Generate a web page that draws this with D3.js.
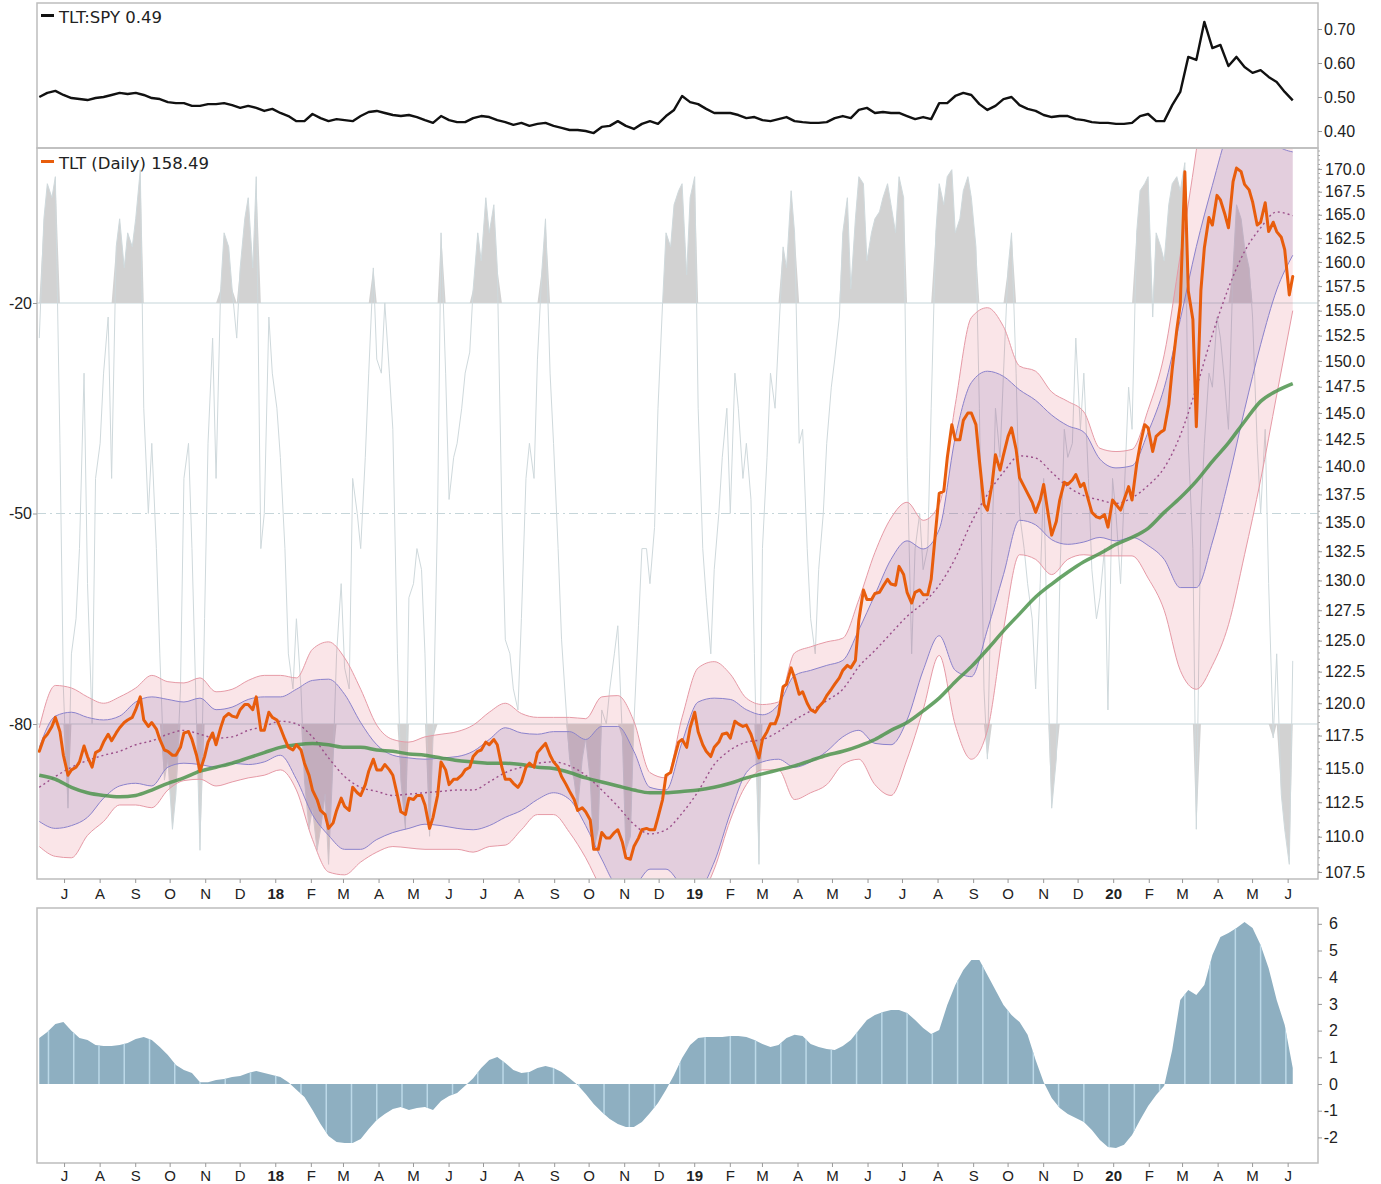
<!DOCTYPE html>
<html>
<head>
<meta charset="utf-8">
<script src="https://cdn.jsdelivr.net/npm/d3@7"></script>
<style>
  html, body { margin: 0; padding: 0; background: #fff; }
  svg { display: block; }
  .tick-label { font-family: "Liberation Sans", Arial, sans-serif; font-size: 16px; fill: #222; }
  .legend { font-family: "DejaVu Sans", Verdana, sans-serif; font-size: 16.5px; fill: #222; }
</style>
</head>
<body>
<svg id="chart" width="1381" height="1184"></svg>
<script>
// weekly closes (Fridays) from 2017-06-09
const ratioValues = [
  0.500,0.512,0.518,0.506,0.497,0.494,0.491,0.497,0.500,0.506,
  0.512,0.509,0.512,0.506,0.497,0.494,0.485,0.482,0.482,0.474,
  0.474,0.479,0.479,0.482,0.476,0.468,0.474,0.468,0.459,0.465,
  0.453,0.444,0.429,0.429,0.450,0.438,0.429,0.435,0.432,0.429,
  0.444,0.456,0.459,0.453,0.447,0.444,0.447,0.441,0.432,0.424,
  0.444,0.432,0.426,0.426,0.438,0.444,0.441,0.432,0.426,0.418,
  0.424,0.415,0.421,0.424,0.415,0.409,0.403,0.403,0.400,0.394,
  0.412,0.415,0.429,0.415,0.406,0.421,0.429,0.421,0.444,0.462,
  0.503,0.485,0.479,0.465,0.453,0.453,0.453,0.447,0.438,0.441,
  0.432,0.429,0.435,0.441,0.429,0.426,0.424,0.424,0.426,0.438,
  0.444,0.438,0.462,0.468,0.453,0.456,0.453,0.453,0.444,0.435,
  0.441,0.435,0.482,0.482,0.503,0.512,0.506,0.479,0.462,0.474,
  0.494,0.500,0.476,0.465,0.459,0.447,0.441,0.444,0.444,0.435,
  0.432,0.426,0.424,0.424,0.421,0.421,0.424,0.444,0.450,0.429,
  0.429,0.476,0.515,0.618,0.609,0.721,0.644,0.653,0.591,0.618,
  0.588,0.571,0.579,0.559,0.544,0.515,0.490
];

const histValues = [
  1.72,1.95,2.25,2.32,1.99,1.72,1.65,1.46,1.42,1.42,
  1.46,1.54,1.69,1.76,1.65,1.39,1.09,0.71,0.52,0.41,
  0.07,0.07,0.15,0.19,0.26,0.30,0.41,0.49,0.41,0.34,
  0.26,0.07,-0.22,-0.49,-0.97,-1.50,-1.95,-2.17,-2.21,-2.21,
  -2.06,-1.69,-1.35,-1.12,-0.94,-0.86,-0.97,-0.90,-0.86,-0.97,
  -0.64,-0.45,-0.34,-0.07,0.22,0.60,0.90,1.01,0.79,0.52,
  0.41,0.45,0.60,0.67,0.60,0.45,0.22,-0.04,-0.37,-0.75,
  -1.05,-1.31,-1.50,-1.61,-1.61,-1.42,-1.09,-0.71,-0.22,0.34,
  0.97,1.46,1.72,1.76,1.76,1.76,1.80,1.80,1.76,1.65,
  1.50,1.39,1.46,1.72,1.84,1.80,1.50,1.39,1.31,1.27,
  1.42,1.65,2.02,2.40,2.58,2.70,2.77,2.77,2.66,2.40,
  2.10,1.87,2.02,2.96,3.71,4.27,4.64,4.64,4.08,3.52,
  2.96,2.58,2.32,1.84,0.90,0.07,-0.52,-0.90,-1.12,-1.27,
  -1.42,-1.72,-2.10,-2.36,-2.40,-2.28,-1.91,-1.35,-0.82,-0.41,
  -0.07,1.27,3.15,3.52,3.33,3.71,4.83,5.51,5.66,5.84,
  6.07,5.84,5.21,4.34,3.15,2.21,0.60
];

// twice a week (Fri, Tue, Fri, ...) from 2017-06-09
const priceCloses = [
  116.3,117.3,117.6,118.2,118.9,117.8,116.0,114.5,114.9,115.1,
  115.5,116.7,115.9,115.1,116.2,116.4,117.0,117.6,117.1,117.7,
  118.1,118.5,118.7,118.9,119.5,120.5,118.7,118.2,118.5,118.0,
  117.2,116.4,116.3,116.0,116.0,116.6,117.7,117.8,117.2,116.0,
  114.8,115.9,117.0,117.7,116.8,118.1,118.9,119.2,119.0,118.9,
  119.5,119.9,119.9,119.5,120.5,117.9,117.9,119.3,118.9,118.7,
  118.1,117.2,116.6,116.4,116.8,116.4,115.4,114.5,113.4,112.7,
  111.9,111.6,110.6,111.0,111.9,112.8,112.2,111.9,113.6,113.2,
  113.0,113.8,114.8,115.7,114.9,114.9,115.3,114.9,114.5,113.0,
  111.8,111.6,112.8,112.7,113.0,113.0,112.3,110.6,111.4,113.0,
  115.5,114.9,113.8,114.2,114.2,114.5,114.9,115.1,115.9,116.3,
  116.4,117.0,116.8,117.2,116.8,115.1,114.2,114.2,113.9,113.6,
  114.0,115.1,115.4,115.1,116.2,116.6,116.9,116.0,115.5,115.1,
  114.4,113.8,113.3,112.7,111.9,112.1,111.8,111.2,109.1,109.1,
  110.3,109.9,109.9,110.3,110.5,109.6,108.5,108.4,109.3,109.9,
  110.5,110.6,110.5,110.5,111.4,112.7,114.5,114.7,115.7,117.0,
  117.2,116.6,118.1,119.3,117.8,116.8,116.3,115.9,116.6,117.0,
  117.6,117.7,117.3,118.6,118.4,118.2,118.3,117.6,116.8,115.8,
  117.2,117.8,118.4,118.4,119.1,121.3,121.5,122.8,122.0,120.7,
  120.9,120.0,119.5,119.3,119.7,120.1,120.6,121.1,121.5,122.0,
  122.6,123.0,122.8,123.4,126.7,129.2,128.4,128.4,128.9,129.0,
  129.5,130.1,129.7,129.6,131.2,130.5,129.0,128.1,129.0,129.2,
  128.8,128.8,130.1,134.4,137.6,137.8,140.8,143.9,142.5,142.5,
  144.3,145.0,145.0,143.9,140.6,136.6,136.1,138.4,141.1,139.7,
  141.1,142.8,143.6,141.6,139.0,138.2,137.6,136.8,135.9,137.0,
  138.4,135.7,133.9,135.1,137.0,138.6,138.4,138.8,139.3,138.2,
  138.5,137.0,135.9,135.5,135.4,135.7,134.6,137.0,136.6,136.1,
  137.0,138.2,137.0,140.2,142.0,143.9,143.6,141.4,142.8,143.2,
  143.4,145.8,149.2,153.1,155.6,169.7,157.0,154.1,143.7,157.1,
  161.5,164.7,163.9,167.1,166.6,165.0,163.6,168.6,170.1,169.7,
  168.3,167.7,166.4,163.9,164.2,166.3,163.2,164.2,163.2,162.6,
  161.3,156.6,158.49
];

const williamsR = [
  -25,-8,-3,-5,-2,-40,-75,-92,-70,-65,
  -55,-30,-60,-80,-45,-40,-30,-22,-45,-12,
  -8,-15,-10,-12,-8,-1,-35,-50,-40,-55,
  -70,-88,-85,-95,-90,-75,-45,-40,-55,-80,
  -98,-65,-40,-25,-45,-18,-10,-12,-18,-25,
  -15,-8,-5,-15,-2,-55,-50,-22,-30,-35,
  -42,-55,-70,-75,-65,-75,-88,-95,-92,-98,
  -95,-90,-100,-85,-70,-60,-72,-75,-45,-50,
  -55,-42,-30,-15,-28,-30,-20,-30,-38,-70,
  -88,-95,-62,-60,-55,-58,-70,-96,-82,-50,
  -10,-30,-48,-42,-40,-35,-30,-27,-18,-10,
  -14,-5,-10,-6,-15,-50,-68,-70,-75,-78,
  -65,-45,-40,-45,-28,-15,-8,-30,-40,-55,
  -68,-78,-85,-88,-92,-85,-82,-88,-98,-95,
  -78,-80,-75,-70,-66,-82,-98,-96,-80,-66,
  -55,-55,-60,-52,-35,-20,-10,-12,-6,-4,
  -3,-16,-5,-2,-35,-55,-62,-70,-58,-50,
  -42,-35,-50,-30,-35,-45,-40,-48,-70,-100,
  -55,-42,-30,-35,-25,-12,-15,-4,-10,-40,
  -38,-55,-65,-70,-58,-50,-40,-32,-28,-22,
  -10,-5,-18,-8,-2,-3,-14,-10,-8,-7,
  -5,-3,-6,-10,-2,-5,-42,-70,-55,-50,
  -58,-55,-35,-10,-3,-6,-2,-1,-10,-8,
  -4,-2,-5,-12,-35,-75,-85,-55,-35,-42,
  -30,-15,-10,-30,-50,-55,-60,-65,-75,-60,
  -45,-75,-92,-85,-60,-38,-42,-40,-25,-38,
  -30,-45,-58,-65,-62,-55,-78,-45,-50,-60,
  -48,-32,-38,-10,-4,-3,-2,-22,-10,-12,
  -14,-6,-3,-2,-4,0,-40,-55,-95,-50,
  -40,-30,-32,-22,-25,-32,-38,-15,-6,-8,
  -12,-15,-22,-40,-50,-38,-60,-82,-70,-90,
  -95,-100,-71
];

// every second Friday from 2017-06-09
const outerUpper = [
  118.1,121.4,121.2,120.5,120.0,120.5,121.2,122.2,121.7,121.6,
  122.0,120.9,121.1,121.8,122.2,122.2,122.0,124.3,124.9,123.6,
  121.1,118.3,117.2,117.0,117.4,117.6,117.8,118.3,119.3,120.0,
  119.2,118.9,118.9,118.9,118.8,120.5,120.6,118.6,114.7,114.3,
  118.9,122.8,123.3,122.3,120.4,119.9,120.1,124.0,124.5,124.9,
  125.2,128.4,132.4,135.4,136.8,135.2,136.6,145.8,154.3,155.3,
  153.4,149.5,149.0,147.0,146.1,145.1,141.7,141.4,141.6,145.3,
  150.6,160.7,172.1,186.1,193.5,194.8,192.3,183.7,176.6
];
const outerLower = [
  109.3,108.6,108.5,110.1,111.1,112.3,112.3,112.1,113.4,114.1,
  114.2,113.7,114.0,114.3,114.5,114.9,113.4,109.8,107.5,107.3,
  108.2,108.9,109.3,109.2,109.1,109.1,109.1,108.9,109.3,109.4,
  110.5,111.6,111.6,110.3,108.5,106.3,104.9,104.2,104.9,105.2,
  105.2,105.6,107.7,111.2,113.8,114.9,114.9,112.7,113.2,113.8,
  115.3,115.7,113.8,113.0,115.7,119.5,123.8,118.3,115.7,117.9,
  125.9,132.2,131.8,130.5,131.8,132.2,132.1,132.1,132.1,130.2,
  127.5,122.6,121.1,123.0,126.3,132.2,138.8,146.7,155.0
];
const innerUpper = [
  116.6,119.0,119.3,118.9,118.7,119.0,120.1,120.5,120.3,120.1,
  120.4,119.5,119.7,120.3,120.5,120.5,121.1,121.8,121.9,120.7,
  118.5,116.8,116.0,115.8,115.7,115.8,115.9,116.3,117.2,118.1,
  117.7,117.6,117.8,117.8,117.2,118.2,118.2,116.3,113.6,113.4,
  117.0,120.1,120.4,120.3,119.5,119.1,119.9,122.2,122.6,123.0,
  123.4,125.9,128.8,131.8,133.4,132.7,134.4,142.7,147.9,149.0,
  148.5,147.2,146.2,144.8,143.8,143.2,140.7,139.9,140.1,143.2,
  147.4,154.1,161.6,168.2,174.4,177.8,176.6,172.7,171.9
];
const innerLower = [
  111.1,110.6,110.8,111.4,112.8,113.7,113.9,113.7,115.1,115.4,
  115.3,115.1,115.4,115.3,115.5,116.0,114.2,111.6,110.1,109.1,
  109.1,109.8,110.3,110.6,110.9,110.8,110.6,110.5,110.8,111.4,
  111.9,112.7,113.2,112.7,110.8,108.4,106.6,106.6,107.7,107.7,
  106.6,106.3,108.2,111.7,114.7,115.5,115.7,115.1,115.5,116.3,
  117.4,117.9,116.9,116.8,118.7,122.6,125.4,122.6,122.1,125.9,
  130.5,135.2,134.8,133.5,133.1,133.3,133.7,133.4,133.7,133.0,
  131.8,129.4,129.4,133.3,138.8,145.3,151.6,157.1,160.7
];
const midLine = [
  113.6,114.4,115.1,115.6,116.0,116.3,116.8,117.1,117.6,117.9,
  117.6,117.3,117.4,117.9,118.2,118.6,118.4,117.4,115.8,114.4,
  113.6,113.3,113.0,113.1,113.2,113.3,113.4,113.4,114.0,114.7,
  115.1,115.4,115.5,115.2,114.5,113.4,112.2,110.9,110.2,110.5,
  111.7,113.3,115.3,116.4,117.0,117.2,117.8,118.7,119.4,120.2,
  121.1,122.9,124.2,125.6,127.0,128.1,129.6,131.9,135.0,137.5,
  139.5,141.0,140.8,139.5,138.2,137.4,137.0,136.7,137.2,138.3,
  139.9,142.9,147.4,152.6,157.3,161.1,163.6,165.3,164.9
];
const ma200 = [
  114.5,114.2,113.6,113.2,113.0,112.9,113.0,113.4,113.9,114.3,
  114.8,115.1,115.4,115.8,116.2,116.6,116.8,116.9,116.8,116.6,
  116.6,116.4,116.3,116.1,116.0,115.8,115.6,115.5,115.4,115.4,
  115.3,115.1,115.0,114.7,114.3,114.0,113.7,113.4,113.2,113.2,
  113.3,113.4,113.6,113.9,114.3,114.6,114.9,115.2,115.6,116.0,
  116.3,116.7,117.2,117.9,118.5,119.4,120.4,121.7,122.9,124.3,
  125.8,127.2,128.6,129.7,130.7,131.6,132.3,133.1,133.7,134.5,
  135.9,137.2,138.7,140.5,142.2,144.2,146.1,147.1,147.8
];

const priceTicks = d3.range(107.5, 170.01, 2.5);
const ratioTicks = [0.40, 0.50, 0.60, 0.70];
const pctRTicks = [-20, -50, -80];
const histTicks = [-2, -1, 0, 1, 2, 3, 4, 5, 6];

var left = 37, right = 1318;
var top1 = 3, bot1 = 148, top2 = 148, bot2 = 879, top3 = 908, bot3 = 1163;

var svg = d3.select('#chart');

var start = new Date(2017, 5, 9);
var weekDates = ratioValues.map((d, i) => d3.timeDay.offset(start, 7 * i));
var halfWeekDates = priceCloses.map((d, j) => d3.timeDay.offset(start, 7 * Math.floor(j / 2) + (j % 2 ? 4 : 0)));
var biWeekDates = outerUpper.map((d, k) => d3.timeDay.offset(start, 14 * k));

var xs = d3.scaleTime()
    .domain([new Date(2017, 5, 7), new Date(2020, 5, 27)])
    .range([left, right]);

var yRatio = d3.scaleLinear().domain([0.35, 0.7765]).range([bot1, top1]);
var yPrice = d3.scaleLog().domain([107.01, 172.34]).range([bot2, top2]);
var yPct = d3.scaleLinear().domain([-102.09, 2.09]).range([bot2, top2]);
var yHist = d3.scaleLinear().domain([-2.959, 6.592]).range([bot3, top3]);

var defs = svg.append('defs');
function clip(id, y0, y1) {
    defs.append('clipPath').attr('id', id)
        .append('rect').attr('x', left).attr('y', y0).attr('width', right - left).attr('height', y1 - y0);
}
clip('clip1', top1, bot1);
clip('clip2', top2, bot2);
clip('clip3', top3, bot3);

// ---------- top panel: TLT:SPY ----------
var g1 = svg.append('g').attr('clip-path', 'url(#clip1)');
g1.append('path')
    .datum(ratioValues)
    .attr('fill', 'none')
    .attr('stroke', '#111')
    .attr('stroke-width', 2.4)
    .attr('stroke-linejoin', 'round')
    .attr('d', d3.line().x((d, i) => xs(weekDates[i])).y(d => yRatio(d)));

// ---------- main panel ----------
var g2 = svg.append('g').attr('clip-path', 'url(#clip2)');

pctRTicks.forEach(function(t) {
    g2.append('line')
        .attr('x1', left).attr('x2', right)
        .attr('y1', yPct(t)).attr('y2', yPct(t))
        .attr('stroke', '#c6d6da')
        .attr('stroke-width', 1.2)
        .attr('stroke-dasharray', t == -50 ? '9,4,2,4' : null);
});

var px = (d, j) => xs(halfWeekDates[j]);
g2.append('path')
    .datum(williamsR)
    .attr('fill', '#d2d2d2')
    .attr('d', d3.area().x(px).y0(yPct(-20)).y1(d => yPct(Math.max(d, -20))));
g2.append('path')
    .datum(williamsR)
    .attr('fill', '#d2d2d2')
    .attr('d', d3.area().x(px).y0(yPct(-80)).y1(d => yPct(Math.min(d, -80))));
g2.append('path')
    .datum(williamsR)
    .attr('fill', 'none')
    .attr('stroke', '#cfd9dc')
    .attr('stroke-width', 1)
    .attr('d', d3.line().x(px).y(d => yPct(d)));

var bx = (d, k) => xs(biWeekDates[k]);
var curve = d3.curveMonotoneX;

g2.append('path')
    .datum(outerUpper)
    .attr('fill', 'rgba(220,80,100,0.15)')
    .attr('d', d3.area().curve(curve).x(bx).y0((d, k) => yPrice(outerLower[k])).y1(d => yPrice(d)));
g2.append('path')
    .datum(innerUpper)
    .attr('fill', 'rgba(110,90,170,0.16)')
    .attr('d', d3.area().curve(curve).x(bx).y0((d, k) => yPrice(innerLower[k])).y1(d => yPrice(d)));

[[outerUpper, '#e69aa6'], [outerLower, '#e69aa6'], [innerUpper, '#8b82cc'], [innerLower, '#8b82cc']].forEach(function(s) {
    g2.append('path')
        .datum(s[0])
        .attr('fill', 'none')
        .attr('stroke', s[1])
        .attr('stroke-width', 1)
        .attr('d', d3.line().curve(curve).x(bx).y(d => yPrice(d)));
});

g2.append('path')
    .datum(midLine)
    .attr('fill', 'none')
    .attr('stroke', '#9c4f8a')
    .attr('stroke-width', 1.4)
    .attr('stroke-dasharray', '2,3')
    .attr('d', d3.line().curve(curve).x(bx).y(d => yPrice(d)));

g2.append('path')
    .datum(ma200)
    .attr('fill', 'none')
    .attr('stroke', '#4e944e')
    .attr('stroke-opacity', 0.85)
    .attr('stroke-width', 3.5)
    .attr('d', d3.line().curve(curve).x(bx).y(d => yPrice(d)));

g2.append('path')
    .datum(priceCloses)
    .attr('fill', 'none')
    .attr('stroke', '#e85d0c')
    .attr('stroke-width', 3)
    .attr('stroke-linejoin', 'round')
    .attr('stroke-linecap', 'round')
    .attr('d', d3.line().x(px).y(d => yPrice(d)));

// ---------- bottom panel ----------
var g3 = svg.append('g').attr('clip-path', 'url(#clip3)');
var histArea = d3.area().x((d, i) => xs(weekDates[i])).y0(yHist(0)).y1(d => yHist(d));
defs.append('clipPath').attr('id', 'histclip')
    .append('path').datum(histValues).attr('d', histArea);
g3.append('path')
    .datum(histValues)
    .attr('fill', '#8eafc1')
    .attr('d', histArea);
var stripes = d3.range(0, 1100, 22).map(n => d3.timeDay.offset(new Date(2017, 5, 17), n));
g3.append('g')
    .attr('clip-path', 'url(#histclip)')
    .selectAll('line')
    .data(stripes)
    .enter()
    .append('line')
        .attr('x1', d => xs(d)).attr('x2', d => xs(d))
        .attr('y1', top3).attr('y2', bot3)
        .attr('stroke', '#bcd9e8')
        .attr('stroke-width', 1.5);

// ---------- frames ----------
[[top1, bot1], [top2, bot2], [top3, bot3]].forEach(function(p) {
    svg.append('rect')
        .attr('x', left).attr('y', p[0])
        .attr('width', right - left).attr('height', p[1] - p[0])
        .attr('fill', 'none')
        .attr('stroke', '#bdbdbd')
        .attr('stroke-width', 1.5);
});

// ---------- right axes ----------
function styleAxis(g) {
    g.select('.domain').remove();
    g.selectAll('.tick line').attr('stroke', '#999');
    g.selectAll('.tick text').attr('class', 'tick-label').attr('fill', null);
}

svg.append('g')
    .attr('transform', 'translate(' + right + ',0)')
    .call(d3.axisRight(yRatio).tickValues(ratioTicks).tickFormat(d3.format('.2f')).tickSize(4).tickPadding(2))
    .call(styleAxis);

svg.append('g')
    .attr('transform', 'translate(' + right + ',0)')
    .selectAll('line')
    .data(d3.range(107.5, 172.1, 0.5))
    .enter()
    .append('line')
        .attr('x1', 0).attr('x2', 2)
        .attr('y1', d => yPrice(d)).attr('y2', d => yPrice(d))
        .attr('stroke', '#aaa');

svg.append('g')
    .attr('transform', 'translate(' + right + ',0)')
    .call(d3.axisRight(yPrice).tickValues(priceTicks).tickFormat(d3.format('.1f')).tickSize(4).tickPadding(3))
    .call(styleAxis);

svg.append('g')
    .attr('transform', 'translate(' + left + ',0)')
    .call(d3.axisLeft(yPct).tickValues(pctRTicks).tickFormat(d => String(d)).tickSize(4).tickPadding(1))
    .call(styleAxis);

var histAxis = svg.append('g')
    .attr('transform', 'translate(' + right + ',0)')
    .call(d3.axisRight(yHist).tickValues(histTicks).tickFormat(d => String(d)).tickSize(4).tickPadding(3))
    .call(styleAxis);
histAxis.selectAll('.tick text').attr('text-anchor', 'end').attr('x', 20);

// ---------- time axes ----------
var months = d3.timeMonth.range(new Date(2017, 6, 1), new Date(2020, 6, 1));
function timeAxis(yAxis, yText) {
    var g = svg.append('g');
    g.selectAll('line')
        .data(months)
        .enter()
        .append('line')
            .attr('x1', d => xs(d)).attr('x2', d => xs(d))
            .attr('y1', yAxis).attr('y2', yAxis + 4)
            .attr('stroke', '#999');
    g.selectAll('text')
        .data(months)
        .enter()
        .append('text')
            .attr('class', 'tick-label')
            .attr('x', d => xs(d))
            .attr('y', yText)
            .attr('text-anchor', 'middle')
            .style('font-size', '15px')
            .style('font-weight', d => d.getMonth() == 0 ? 'bold' : 'normal')
            .text(d => d.getMonth() == 0 ? d3.timeFormat('%y')(d) : d3.timeFormat('%b')(d)[0]);
}
timeAxis(bot2, 899);
timeAxis(bot3, 1181);

// ---------- legends ----------
svg.append('rect').attr('x', 41).attr('y', 14).attr('width', 13).attr('height', 3).attr('fill', '#111');
svg.append('text').attr('class', 'legend').attr('x', 59).attr('y', 23).text('TLT:SPY 0.49');
svg.append('rect').attr('x', 41).attr('y', 160).attr('width', 13).attr('height', 3).attr('fill', '#e85d0c');
svg.append('text').attr('class', 'legend').attr('x', 59).attr('y', 169).text('TLT (Daily) 158.49');
</script>
</body>
</html>
